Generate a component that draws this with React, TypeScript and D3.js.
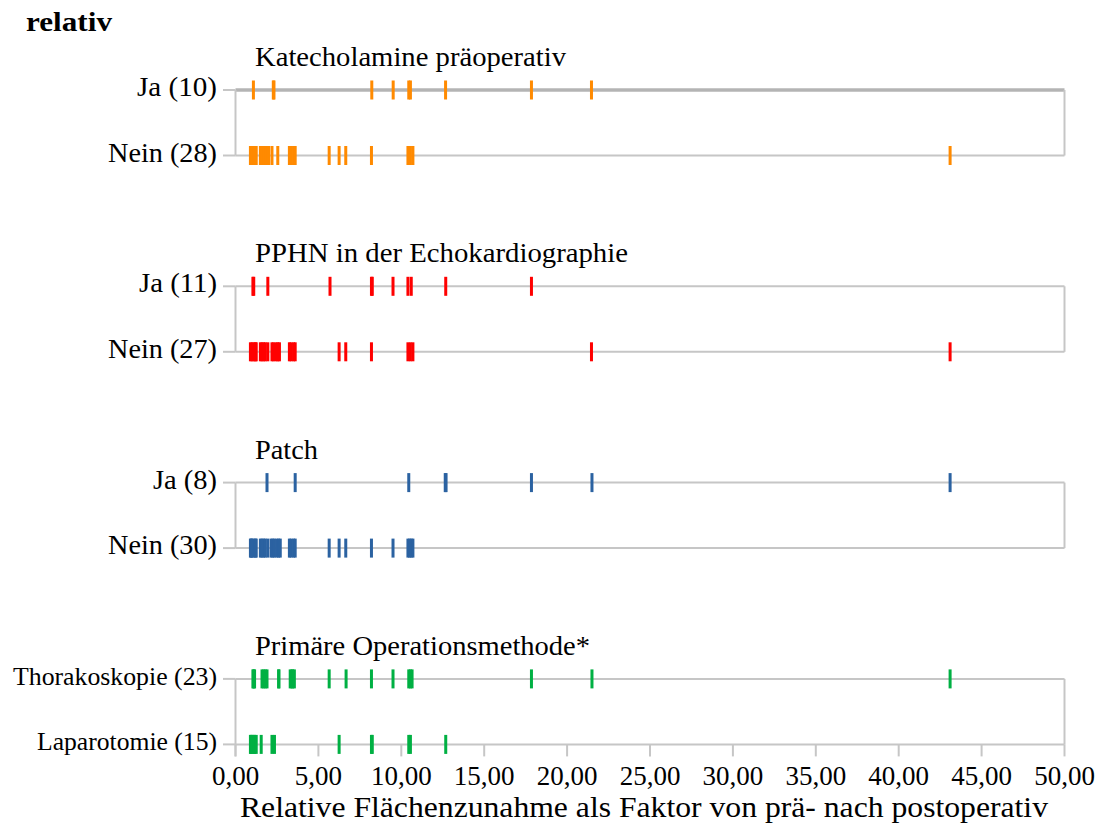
import React from "react";
import * as d3 from "d3";

// Strip chart: relative area increase (pre- to postoperative) per subgroup
const panelTitles = [
  "Katecholamine präoperativ",
  "PPHN in der Echokardiographie",
  "Patch",
  "Primäre Operationsmethode*",
];
const rowLabels = [
  ["Ja (10)", "Nein (28)"],
  ["Ja (11)", "Nein (27)"],
  ["Ja (8)", "Nein (30)"],
  ["Thorakoskopie (23)", "Laparotomie (15)"],
];
const seriesColors = ["#ff8a00", "#ff0000", "#2b62a1", "#00b043"];

const katecholaminJa = [1.08, 2.28, 2.32, 8.22, 9.51, 10.45, 10.55, 12.67, 17.85, 21.47];
const katecholaminNein = [
  0.9, 0.95, 1.0, 1.1, 1.15, 1.2, 1.25, 1.5, 1.6, 1.7, 1.75, 1.85, 1.95, 2.0, 2.2, 2.55,
  3.25, 3.35, 3.5, 3.6, 5.65, 6.25, 6.65, 8.2, 10.4, 10.55, 10.7, 43.1,
];
const pphnJa = [1.05, 1.1, 1.95, 5.7, 8.2, 8.25, 9.5, 10.4, 10.6, 12.68, 17.85];
const pphnNein = [
  0.9, 1.0, 1.1, 1.2, 1.25, 1.5, 1.6, 1.7, 1.8, 1.95, 2.2, 2.3, 2.45, 2.55, 2.65, 3.25,
  3.35, 3.5, 3.6, 6.25, 6.65, 8.2, 10.4, 10.55, 10.7, 21.47, 43.1,
];
const patchJa = [1.9, 3.6, 10.45, 12.65, 12.7, 17.85, 21.5, 43.1];
const patchNein = [
  0.9, 0.95, 1.0, 1.1, 1.2, 1.25, 1.5, 1.6, 1.7, 1.8, 1.95, 2.15, 2.25, 2.35, 2.5, 2.6,
  2.7, 3.25, 3.35, 3.5, 3.6, 5.65, 6.25, 6.65, 8.2, 9.5, 10.4, 10.5, 10.6, 10.7,
];
const thorakoskopie = [
  1.05, 1.1, 1.15, 1.6, 1.7, 1.8, 1.9, 2.6, 2.62, 3.3, 3.4, 3.45, 3.55, 5.65, 6.67, 8.2,
  9.5, 10.45, 10.55, 10.65, 17.85, 21.5, 43.1,
];
const laparotomie = [0.9, 0.95, 1.0, 1.1, 1.15, 1.25, 1.55, 2.2, 2.35, 6.25, 8.2, 8.25, 10.45, 10.55, 12.68];

const panelSeries = [
  [katecholaminJa, katecholaminNein],
  [pphnJa, pphnNein],
  [patchJa, patchNein],
  [thorakoskopie, laparotomie],
];

const xTickValues = [0, 5, 10, 15, 20, 25, 30, 35, 40, 45, 50];
const axisTitle = "Relative Flächenzunahme als Faktor von prä- nach postoperativ";
const chartTitle = "relativ";

const W = 1098;
const H = 825;
const x = d3.scaleLinear().domain([0, 50]).range([235.5, 1064.5]);
const deFormat = d3.formatLocale({ decimal: ",", thousands: ".", grouping: [3], currency: ["", " €"] }).format(",.2f");

const serif = "'Liberation Serif', 'Times New Roman', serif";
const gridColor = "#c6c6c6";

const panelTop = (p: number) => 90 + p * 196.3;
const rowGap = 65.5;

const labelWidths = [
  [80, 109],
  [78, 109],
  [64, 109],
  [204, 180],
];
const titleWidths = [311, 373, 63, 335];

export default function App() {
  const x0 = x(0);
  const x1 = x(50);
  return (
    <svg
      width={W}
      height={H}
      style={{ position: "absolute", left: 0, top: 0, background: "#fff" }}
      fontFamily={serif}
    >
      <text x={26} y={31} fontSize={28} fontWeight="bold" textLength={86} lengthAdjust="spacingAndGlyphs" fill="#000">
        {chartTitle}
      </text>
      {panelSeries.map((rows, p) => {
        const yTop = panelTop(p);
        const yBot = yTop + rowGap;
        const isLast = p === panelSeries.length - 1;
        return (
          <g key={p}>
            <text
              x={255}
              y={yTop - 24}
              fontSize={28}
              textLength={titleWidths[p]}
              lengthAdjust="spacingAndGlyphs"
              fill="#000"
            >
              {panelTitles[p]}
            </text>
            {/* frame */}
            <line x1={x0} x2={x1} y1={yBot} y2={yBot} stroke={gridColor} strokeWidth={2} />
            <line
              x1={x0}
              x2={x1}
              y1={yTop}
              y2={yTop}
              stroke={p === 0 ? "#b4b4b4" : gridColor}
              strokeWidth={p === 0 ? 3.5 : 2}
            />
            <line x1={x1} x2={x1} y1={yTop} y2={yBot} stroke={gridColor} strokeWidth={2} />
            <line x1={x0} x2={x0} y1={yTop} y2={isLast ? yBot + 12 : yBot} stroke={gridColor} strokeWidth={2} />
            <line x1={223} x2={x0} y1={yTop} y2={yTop} stroke={gridColor} strokeWidth={2} />
            <line x1={223} x2={x0} y1={yBot} y2={yBot} stroke={gridColor} strokeWidth={2} />
            {isLast &&
              xTickValues.map((t) => (
                <line key={t} x1={x(t)} x2={x(t)} y1={yBot} y2={yBot + 12} stroke={gridColor} strokeWidth={2} />
              ))}
            {rows.map((vals, r) => {
              const yRow = r === 0 ? yTop : yBot;
              const small = isLast;
              return (
                <g key={r}>
                  <text
                    x={217}
                    y={yRow + 6}
                    fontSize={small ? 25 : 28}
                    textAnchor="end"
                    textLength={labelWidths[p][r]}
                    lengthAdjust="spacingAndGlyphs"
                    fill="#000"
                  >
                    {rowLabels[p][r]}
                  </text>
                  {vals.map((v, i) => (
                    <rect
                      key={i}
                      x={x(v) - 1.5}
                      y={yRow - 9.5}
                      width={3}
                      height={19}
                      fill={seriesColors[p]}
                    />
                  ))}
                </g>
              );
            })}
          </g>
        );
      })}
      {xTickValues.map((t) => (
        <text key={t} x={x(t)} y={785} fontSize={27} textAnchor="middle" fill="#000">
          {deFormat(t)}
        </text>
      ))}
      <text x={644} y={817} fontSize={29} textAnchor="middle" textLength={808} lengthAdjust="spacingAndGlyphs" fill="#000">
        {axisTitle}
      </text>
    </svg>
  );
}
